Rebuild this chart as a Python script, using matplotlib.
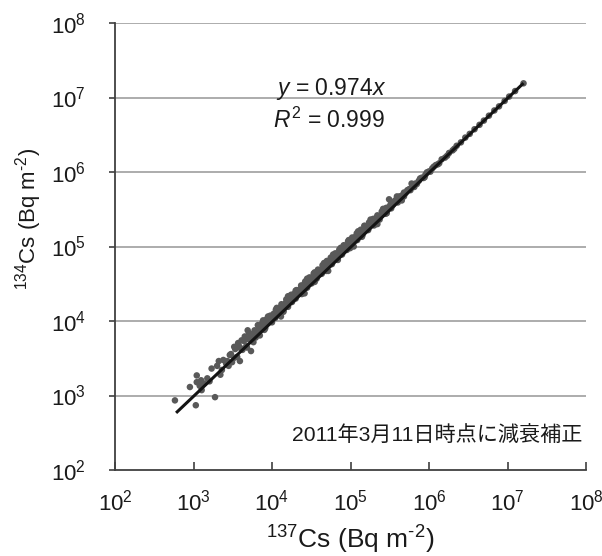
import math
import matplotlib
matplotlib.use("Agg")
import matplotlib.pyplot as plt
from matplotlib.ticker import FixedLocator, FuncFormatter, NullLocator

plt.rcParams['font.family'] = ['Liberation Sans', 'Noto Sans CJK JP', 'DejaVu Sans']
plt.rcParams['mathtext.fontset'] = 'custom'
plt.rcParams['mathtext.rm'] = 'Liberation Sans'
plt.rcParams['mathtext.it'] = 'Liberation Sans:italic'
plt.rcParams['mathtext.bf'] = 'Liberation Sans:bold'

# ---- data (Bq m-2) ----
cs137 = [5.8e2, 9.0e2, 1.07e3, 1.10e3, 1.10e3, 1.27e3, 1.88e3, 1.20e3, 1.35e3, 1.5e3,
         1.7e3, 2.0e3, 2.2e3, 2.4e3, 2.6e3, 2.9e3, 3.1e3, 3.4e3, 3.6e3, 3.7e3,
         3.9e3, 4.2e3, 4.5e3, 4.8e3, 4.9e3, 5.3e3, 5.4e3, 5.8e3, 6.0e3, 6.5e3,
         7.0e3, 7.5e3, 8.0e3, 8.5e3, 9.0e3, 9.5e3, 1.0e4, 1.05e4, 1.1e4, 1.15e4,
         1.2e4, 1.3e4, 1.4e4, 1.5e4, 1.6e4, 1.7e4, 1.8e4, 1.9e4, 2.0e4, 2.2e4,
         2.4e4, 2.6e4, 2.8e4, 3.0e4, 3.2e4, 3.4e4, 3.7e4, 4.0e4, 4.3e4, 4.6e4,
         5.0e4, 5.4e4, 5.8e4, 6.2e4, 6.7e4, 7.2e4, 7.8e4, 8.4e4, 9.0e4, 9.7e4,
         1.05e5, 1.13e5, 1.22e5, 1.32e5, 1.42e5, 1.55e5, 1.68e5, 1.82e5, 1.98e5, 2.15e5,
         2.35e5, 2.55e5, 2.8e5, 3.05e5, 3.1e5, 3.3e5, 3.6e5, 4.0e5, 4.4e5, 4.8e5,
         5.3e5, 5.8e5, 6.4e5, 7.0e5, 7.7e5, 8.5e5, 9.4e5, 1.04e6, 1.15e6, 1.3e6,
         1.45e6, 1.6e6, 1.8e6, 2.0e6, 2.25e6, 2.55e6, 2.9e6, 3.3e6, 3.8e6, 4.4e6,
         5.0e6, 5.8e6, 6.8e6, 7.8e6, 9.2e6, 1.05e7, 1.25e7, 1.60e7,
         1.08e4, 1.25e4, 1.45e4, 1.65e4, 1.85e4, 2.1e4, 2.3e4, 2.5e4, 2.7e4, 2.9e4,
         3.1e4, 3.3e4, 3.6e4, 3.9e4, 4.2e4, 4.5e4, 4.8e4, 5.2e4, 5.6e4, 6.0e4,
         6.5e4, 7.0e4, 7.5e4, 8.1e4, 8.7e4, 9.4e4, 1.01e5, 1.09e5, 1.18e5, 1.27e5,
         1.37e5, 1.48e5, 1.6e5, 1.75e5, 1.9e5, 2.05e5, 2.25e5, 2.45e5, 2.7e5, 2.9e5,
         3.2e5, 3.45e5, 3.8e5, 4.2e5, 4.6e5, 5.0e5, 5.6e5, 6.1e5, 6.7e5, 7.4e5,
         8.1e5, 9.0e5, 1.0e6, 1.1e6, 1.22e6,
         3.0e3, 3.8e3, 4.4e3, 5.0e3, 5.6e3, 6.3e3, 6.8e3, 7.3e3, 7.9e3, 8.7e3,
         9.2e3, 9.8e3,
         1.12e4, 1.32e4, 1.52e4, 1.75e4, 2.05e4, 2.35e4, 2.65e4, 3.0e4, 3.4e4, 3.85e4,
         4.4e4, 5.0e4, 5.6e4, 6.4e4, 7.2e4, 8.2e4, 9.3e4, 1.05e5, 1.2e5, 1.35e5,
         1.52e5, 1.72e5, 1.95e5, 2.2e5, 2.5e5, 2.85e5, 3.25e5, 3.7e5, 4.2e5, 4.8e5,
         2.3e3, 2.7e3, 3.3e3, 4.0e3, 4.7e3, 5.5e3, 6.2e3, 7.1e3, 8.2e3, 9.4e3,
         1.4e4, 2.4e4, 3.5e4, 4.9e4, 6.9e4, 9.9e4, 1.4e5, 2.0e5, 2.9e5, 4.5e5,
         6.5e5, 8.8e5, 1.35e6, 1.7e6, 2.1e6,
         1.6e4, 2.8e4, 4.6e4, 7.5e4, 1.25e5, 1.8e5, 2.6e5, 3.9e5, 6.0e5, 1.15e4,
         2.0e4, 3.5e4, 6.0e4, 9.5e4, 1.5e5,
         1.3e4, 2.6e4, 5.2e4, 1.1e5, 2.2e5, 4.5e5,
         2.1e3, 2.8e3, 3.3e3, 4.1e3, 5.1e3, 6.6e3, 7.7e3, 8.9e3, 1.25e3, 1.6e3]
cs134 = [8.6e2, 1.30e3, 7.4e2, 1.51e3, 1.86e3, 1.18e3, 9.5e2, 1.35e3, 1.45e3, 1.7e3,
         2.3e3, 2.5e3, 1.9e3, 3.0e3, 2.7e3, 3.5e3, 2.8e3, 4.2e3, 3.3e3, 5.06e3,
         2.9e3, 4.1e3, 6.2e3, 4.4e3, 7.5e3, 6.6e3, 3.95e3, 5.2e3, 7.5e3, 7.3e3,
         6.4e3, 9.4e3, 7.6e3, 1.05e4, 9.5e3, 1.18e4, 9.6e3, 1.25e4, 1.1e4, 1.40e4,
         1.22e4, 1.55e4, 1.38e4, 1.75e4, 1.55e4, 2.0e4, 1.8e4, 2.3e4, 2.0e4, 2.6e4,
         2.4e4, 3.2e4, 2.8e4, 3.5e4, 3.2e4, 4.1e4, 3.7e4, 4.7e4, 4.3e4, 5.5e4,
         5.0e4, 6.4e4, 5.8e4, 7.3e4, 6.7e4, 8.5e4, 7.8e4, 9.9e4, 9.0e4, 1.15e5,
         1.05e5, 1.33e5, 1.22e5, 1.53e5, 1.42e5, 1.78e5, 1.66e5, 2.08e5, 1.95e5, 2.45e5,
         2.3e5, 2.85e5, 2.75e5, 3.35e5, 4.3e5, 3.25e5, 3.95e5, 3.9e5, 4.7e5, 4.7e5,
         5.7e5, 5.7e5, 6.8e5, 6.9e5, 8.2e5, 8.3e5, 9.9e5, 1.01e6, 1.18e6, 1.27e6,
         1.48e6, 1.56e6, 1.8e6, 1.95e6, 2.25e6, 2.5e6, 2.9e6, 3.25e6, 3.75e6, 4.3e6,
         4.9e6, 5.7e6, 6.7e6, 7.6e6, 9.0e6, 1.03e7, 1.22e7, 1.55e7,
         1.2e4, 1.45e4, 1.6e4, 1.85e4, 2.15e4, 2.35e4, 2.7e4, 2.75e4, 3.1e4, 3.3e4,
         3.6e4, 3.7e4, 4.2e4, 4.3e4, 4.9e4, 5.0e4, 5.6e4, 5.8e4, 6.6e4, 6.7e4,
         7.6e4, 7.8e4, 8.8e4, 9.0e4, 1.02e5, 1.05e5, 1.18e5, 1.2e5, 1.36e5, 1.4e5,
         1.56e5, 1.62e5, 1.82e5, 1.9e5, 2.15e5, 2.2e5, 2.5e5, 2.6e5, 3.0e5, 3.1e5,
         3.5e5, 3.6e5, 4.1e5, 4.4e5, 4.9e5, 5.2e5, 5.9e5, 6.3e5, 7.0e5, 7.6e5,
         8.4e5, 9.2e5, 1.02e6, 1.12e6, 1.24e6,
         3.6e3, 4.6e3, 5.4e3, 5.7e3, 6.6e3, 7.0e3, 8.3e3, 8.0e3, 9.3e3, 9.8e3,
         1.09e4, 1.06e4,
         1.42e4, 1.68e4, 1.95e4, 2.25e4, 2.6e4, 3.0e4, 3.4e4, 3.85e4, 4.35e4, 4.9e4,
         5.6e4, 6.4e4, 7.1e4, 8.1e4, 9.1e4, 1.04e5, 1.17e5, 1.32e5, 1.5e5, 1.68e5,
         1.88e5, 2.1e5, 2.35e5, 2.62e5, 2.95e5, 3.3e5, 3.7e5, 4.15e5, 4.7e5, 5.3e5,
         2.2e3, 2.9e3, 3.2e3, 4.3e3, 4.6e3, 5.9e3, 6.0e3, 7.6e3, 8.0e3, 1.0e4,
         1.33e4, 2.3e4, 3.35e4, 4.7e4, 6.6e4, 9.5e4, 1.35e5, 1.92e5, 2.8e5, 4.3e5,
         6.3e5, 8.5e5, 1.31e6, 1.65e6, 2.05e6,
         2.15e4, 3.7e4, 6.0e4, 9.6e4, 1.6e5, 2.3e5, 3.2e5, 4.7e5, 7.0e5, 1.5e4,
         2.55e4, 4.5e4, 7.8e4, 1.22e5, 1.9e5,
         1.15e4, 2.35e4, 4.7e4, 1.0e5, 2.0e5, 4.15e5,
         2.9e3, 2.5e3, 4.5e3, 5.5e3, 6.9e3, 8.8e3, 1.02e4, 1.15e4, 1.6e3, 1.55e3]
fit_slope = 0.974
fit_x = [6.0e2, 1.6e7]
equation_text = r'$y$ = 0.974$x$'
r2_text = r'$R^{2}$ = 0.999'
note_text = '2011年3月11日時点に減衰補正'
x_label = r'$\mathregular{^{137}}$Cs (Bq m$\mathregular{^{\text{-}2}}$)'
y_label = r'$\mathregular{^{134}}$Cs (Bq m$\mathregular{^{\text{-}2}}$)'
decades = [2, 3, 4, 5, 6, 7, 8]

W, H = 602, 556
fig = plt.figure(figsize=(W / 100, H / 100), dpi=100)
L, R, B, T = 115, 586, 470, 23
ax = fig.add_axes([L / W, 1 - B / H, (R - L) / W, (B - T) / H])

def px(x, y):
    return x / W, 1 - y / H

ax.set_xscale('log')
ax.set_yscale('log')
ax.set_xlim(10.0 ** decades[0], 10.0 ** decades[-1])
ax.set_ylim(10.0 ** decades[0], 10.0 ** decades[-1])

ticks = [10.0 ** d for d in decades]
fmt = FuncFormatter(lambda v, p: r'$\mathregular{10^{%d}}$' % round(math.log10(v)))
ax.xaxis.set_major_locator(FixedLocator(ticks))
ax.yaxis.set_major_locator(FixedLocator(ticks))
ax.xaxis.set_minor_locator(NullLocator())
ax.yaxis.set_minor_locator(NullLocator())
ax.xaxis.set_major_formatter(fmt)
ax.yaxis.set_major_formatter(fmt)

for d in decades[1:]:
    ax.axhline(10.0 ** d, color='#a6a6a6', lw=1.3, zorder=1)

for s in ['top', 'right']:
    ax.spines[s].set_visible(False)
for s in ['left', 'bottom']:
    ax.spines[s].set_color('#404040')
    ax.spines[s].set_linewidth(1.3)
    ax.spines[s].set_zorder(5)

ax.tick_params(axis='x', direction='in', length=6, width=1.2, color='#404040',
               labelsize=16, pad=14, labelcolor='#1a1a1a')
ax.tick_params(axis='y', direction='out', length=4, width=1.2, color='#404040',
               labelsize=16, pad=17, labelcolor='#1a1a1a')

ax.scatter(cs137, cs134, s=22, color='#595959', edgecolors='none', zorder=3)
ax.plot(fit_x, [fit_slope * v for v in fit_x], color='#141414', lw=2.2, zorder=4,
        solid_capstyle='butt')

fig.text(*px(331, 95), equation_text, ha='center', va='baseline', fontsize=16.5,
         color='#1a1a1a')
fig.text(*px(329, 128), r2_text, ha='center', va='baseline', fontsize=16.5,
         color='#1a1a1a')
fig.text(*px(582, 442), note_text, ha='right', va='baseline', fontsize=15.2,
         color='#1a1a1a')

fig.text(*px(350, 540), x_label, ha='center', va='center', fontsize=19,
         color='#1a1a1a')
fig.text(*px(29, 219), y_label, ha='center', va='center', rotation=90,
         fontsize=16, color='#1a1a1a')

fig.savefig('out.png', dpi=100, facecolor='white')
